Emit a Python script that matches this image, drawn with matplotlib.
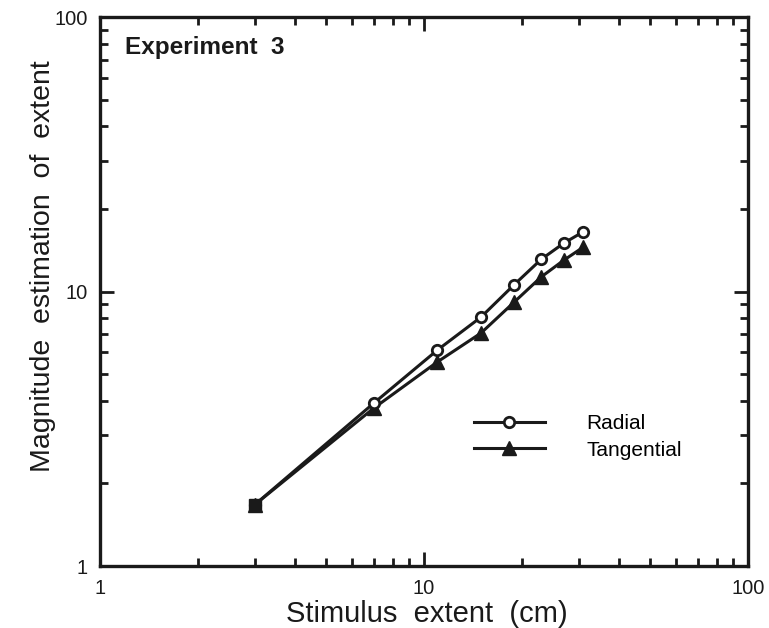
import matplotlib
matplotlib.use("Agg")
import matplotlib.pyplot as plt
from matplotlib.ticker import LogLocator, FixedLocator, NullFormatter

plt.rcParams['font.family'] = ['Liberation Sans', 'DejaVu Sans']

stimulus = [3, 7, 11, 15, 19, 23, 27, 31]
radial = [1.67, 3.92, 6.12, 8.07, 10.6, 13.1, 15.0, 16.5]
tangential = [1.67, 3.76, 5.54, 7.06, 9.16, 11.3, 13.0, 14.5]
major_ticks = [1, 10, 100]
major_labels = ["1", "10", "100"]

fig = plt.figure(figsize=(7.69, 6.28), dpi=100)
ax = fig.add_axes([0.130, 0.0987, 0.8427, 0.8742])

ax.plot(stimulus, tangential, color='#1a1a1a', lw=2.2, marker='^', ms=9.5,
        mfc='#1a1a1a', mec='#1a1a1a', label='Tangential', zorder=3)
ax.plot(stimulus, radial, color='#1a1a1a', lw=2.2, marker='o', ms=7.5,
        mfc='white', mec='#1a1a1a', mew=2, label='Radial', zorder=4)
# first point drawn as filled square (overlap)
ax.plot(stimulus[:1], radial[:1], marker='s', ms=8, color='#1a1a1a',
        ls='none', zorder=5)

ax.set_xscale('log')
ax.set_yscale('log')
ax.set_xlim(1, 100)
ax.set_ylim(1, 100)

for axis in (ax.xaxis, ax.yaxis):
    axis.set_major_locator(FixedLocator(major_ticks))
    axis.set_minor_locator(LogLocator(base=10, subs=range(2, 10)))
    axis.set_minor_formatter(NullFormatter())
ax.set_xticklabels(major_labels)
ax.set_yticklabels(major_labels)

ax.tick_params(which='both', direction='in', top=True, right=True,
               width=2, colors='#1a1a1a', labelsize=14.5)
ax.tick_params(which='major', length=10)
ax.tick_params(which='minor', length=6)
ax.tick_params(axis='x', which='major', pad=9)
ax.tick_params(axis='y', which='major', pad=9)
for s in ax.spines.values():
    s.set_linewidth(2.4)
    s.set_color('#1a1a1a')

ax.set_xlabel('Stimulus  extent  (cm)', fontsize=21, color='#1a1a1a')
ax.xaxis.set_label_coords(0.505, -0.062)
ax.set_ylabel('Magnitude  estimation  of  extent', fontsize=20.5,
              color='#1a1a1a')
ax.yaxis.set_label_coords(-0.068, 0.546)

ax.text(0.038, 0.945, 'Experiment  3', transform=ax.transAxes, fontsize=17.5,
        fontweight='bold', va='center', ha='left', color='#1a1a1a')

handles, labels = ax.get_legend_handles_labels()
leg = ax.legend([handles[1], handles[0]], [labels[1], labels[0]],
                loc='center left', bbox_to_anchor=(0.548, 0.235),
                frameon=False, fontsize=15, handlelength=3.4,
                handletextpad=2.0, labelspacing=0.35, numpoints=1)

fig.savefig('out.png', dpi=100)
